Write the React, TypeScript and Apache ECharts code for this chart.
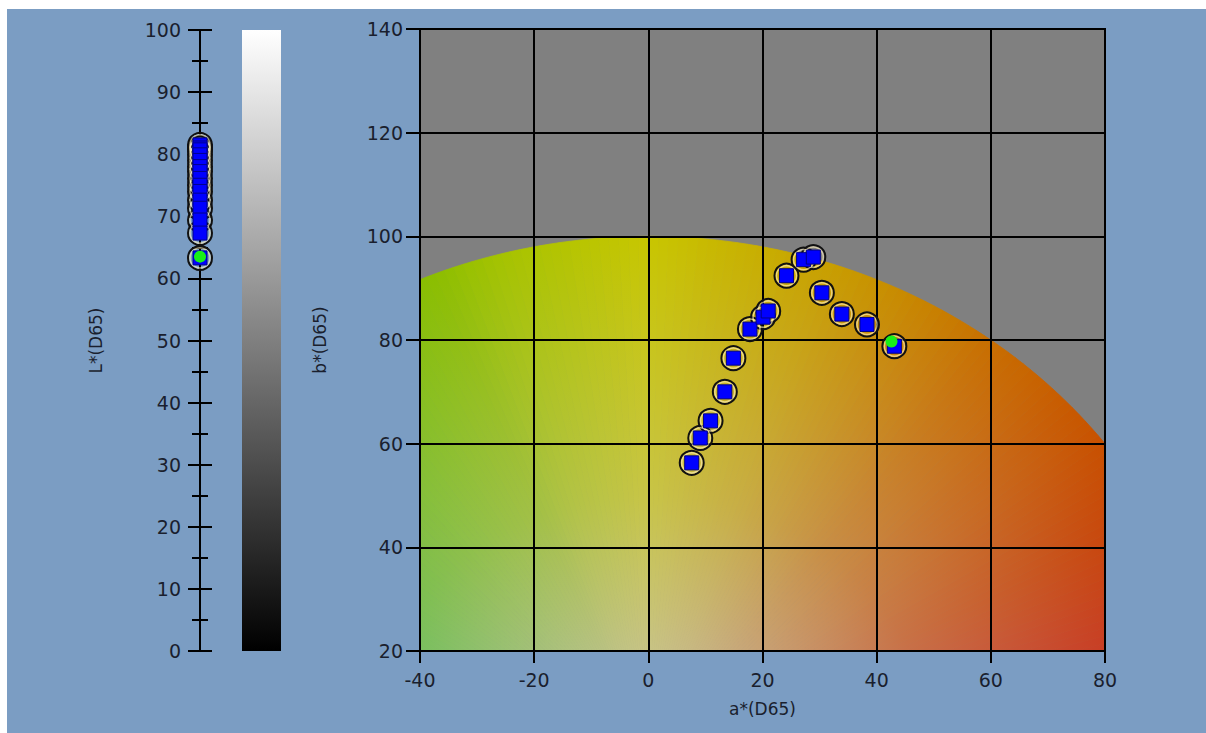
import React, { useEffect, useRef } from 'react';
import * as echarts from 'echarts';

// ---- data ----
const A_VALUES = [7.6, 9.1, 10.9, 13.4, 14.9, 17.8, 20.1, 21.0, 24.2, 27.2, 28.9, 30.4, 33.9, 38.3, 43.1];
const B_VALUES = [56.3, 61.1, 64.4, 70.0, 76.5, 82.1, 84.4, 85.6, 92.4, 95.5, 96.0, 89.1, 85.0, 83.0, 78.8];
const L_VALUES = [81.5, 81.0, 80.7, 79.9, 79.0, 78.0, 77.2, 76.1, 75.0, 74.0, 72.6, 71.3, 69.4, 67.3, 63.3];
const TARGET_A = 42.6;
const TARGET_B = 79.7;
const TARGET_L = 63.5;

const L_MIN = 0, L_MAX = 100, L_STEP = 10;
const A_MIN = -40, A_MAX = 80, A_STEP = 20;
const B_MIN = 20, B_MAX = 140, B_STEP = 20;

// ---- colour-space background (decoration) ----
const GAMUT_CHROMA = 100;
const HUE_STEP = 1;
const HUE_ANCHORS = [0, 14, 27, 37, 53, 72, 90, 105, 112, 153, 180];
const EDGE_COLORS = [
  [200, 30, 30], [200, 40, 15], [200, 60, 0], [200, 80, 0], [200, 110, 0],
  [200, 160, 0], [200, 198, 0], [165, 195, 0], [140, 190, 0], [55, 188, 25], [20, 180, 70],
];
const NEUTRAL = [200, 195, 175];
const MID_MIX = 0.6;
const OUT_OF_GAMUT = '#808080';

const PANEL = '#7b9dc3';
const TEXT = '#1a1f2e';
const FONT = 'DejaVu Sans';

function edgeRGB(h: number): number[] {
  let i = 0;
  while (i < HUE_ANCHORS.length - 2 && h > HUE_ANCHORS[i + 1]) i++;
  const t = Math.max(0, Math.min(1, (h - HUE_ANCHORS[i]) / (HUE_ANCHORS[i + 1] - HUE_ANCHORS[i])));
  const c0 = EDGE_COLORS[i], c1 = EDGE_COLORS[i + 1];
  return c0.map((v, k) => v + (c1[k] - v) * t);
}
function rgb(c: number[]): string {
  return `rgb(${Math.round(c[0])},${Math.round(c[1])},${Math.round(c[2])})`;
}
function mix(a: number[], b: number[], t: number): number[] {
  return a.map((v, k) => v + (b[k] - v) * t);
}

const ringOuter = {
  symbol: 'circle', symbolSize: 24,
  itemStyle: { color: 'rgba(0,0,0,0)', borderColor: '#111111', borderWidth: 2, opacity: 1 },
};
const ringInner = {
  symbol: 'circle', symbolSize: 20,
  itemStyle: { color: 'rgba(0,0,0,0)', borderColor: 'rgba(255,240,190,0.65)', borderWidth: 1.5, opacity: 1 },
};
const square = {
  symbol: 'rect', symbolSize: 14,
  itemStyle: { color: '#0000ff', borderColor: '#00008a', borderWidth: 1, opacity: 1 },
};
const greenDot = {
  symbol: 'circle', symbolSize: 12,
  itemStyle: { color: '#18f018', opacity: 1 },
};

export default function App() {
  const ref = useRef<HTMLDivElement>(null);
  useEffect(() => {
    if (!ref.current) return;
    const chart = echarts.init(ref.current, undefined, { renderer: 'svg' });

    const abData = A_VALUES.map((a, i) => [a, B_VALUES[i]]);
    const lData = L_VALUES.map((l) => [0, l]);

    const axisLabel = { color: TEXT, fontFamily: FONT, fontSize: 19 };
    const nameStyle = { color: TEXT, fontFamily: FONT, fontSize: 17 };
    const blackLine = { color: '#000000', width: 2 };

    const option: any = {
      animation: false,
      backgroundColor: PANEL,
      grid: [
        { left: 193, width: 20, top: 21, bottom: 82, containLabel: false },
        {
          left: 413, right: 101, top: 20, bottom: 82, containLabel: false,
          show: true, backgroundColor: 'transparent', borderColor: '#000000', borderWidth: 2, z: 1,
        },
      ],
      xAxis: [
        { gridIndex: 0, type: 'value', min: 0, max: 1, show: false },
        {
          gridIndex: 1, type: 'value', min: A_MIN, max: A_MAX, interval: A_STEP,
          name: 'a*(D65)', nameLocation: 'middle', nameGap: 49, nameTextStyle: nameStyle,
          axisLine: { show: true, onZero: false, lineStyle: blackLine },
          axisTick: { show: true, length: 12, lineStyle: blackLine },
          axisLabel: { ...axisLabel, margin: 19 },
          splitLine: { show: true, lineStyle: blackLine },
        },
      ],
      yAxis: [
        {
          gridIndex: 0, type: 'value', min: L_MIN, max: L_MAX, interval: L_STEP, position: 'left',
          name: 'L*(D65)', nameLocation: 'middle', nameGap: 96, nameTextStyle: nameStyle,
          axisLine: { show: true, onZero: false, lineStyle: blackLine },
          axisTick: { show: true, length: 12, lineStyle: blackLine },
          minorTick: { show: true, splitNumber: 2, length: 8, lineStyle: { color: '#000', width: 2 } },
          axisLabel: { ...axisLabel, margin: 19 },
          splitLine: { show: false },
        },
        {
          gridIndex: 0, type: 'value', min: L_MIN, max: L_MAX, interval: L_STEP, position: 'left',
          axisLine: { show: false, onZero: false },
          axisTick: { show: true, inside: true, length: 12, lineStyle: blackLine },
          minorTick: { show: true, splitNumber: 2, length: 8, lineStyle: { color: '#000', width: 2 } },
          axisLabel: { show: false },
          splitLine: { show: false },
        },
        {
          gridIndex: 1, type: 'value', min: B_MIN, max: B_MAX, interval: B_STEP,
          name: 'b*(D65)', nameLocation: 'middle', nameGap: 92, nameTextStyle: nameStyle,
          axisLine: { show: true, onZero: false, lineStyle: blackLine },
          axisTick: { show: true, length: 14, lineStyle: blackLine },
          axisLabel: { ...axisLabel, margin: 17 },
          splitLine: { show: true, lineStyle: blackLine },
        },
      ],
      graphic: [
        {
          type: 'rect', left: 235, top: 21, z: 5,
          shape: { width: 39, height: 621 },
          style: {
            fill: new echarts.graphic.LinearGradient(0, 0, 0, 1, [
              { offset: 0, color: '#ffffff' },
              { offset: 1, color: '#000000' },
            ]),
          },
        },
      ],
      series: [
        {
          type: 'custom', xAxisIndex: 1, yAxisIndex: 2, z: -1, clip: true, silent: true,
          data: [[0, 0]],
          renderItem: (_p: any, api: any) => {
            const children: any[] = [];
            const tl = api.coord([A_MIN, B_MAX]);
            const br = api.coord([A_MAX, B_MIN]);
            children.push({
              type: 'rect',
              shape: { x: tl[0], y: tl[1], width: br[0] - tl[0], height: br[1] - tl[1] },
              style: { fill: OUT_OF_GAMUT },
            });
            const o = api.coord([0, 0]);
            for (let h = 0; h < 180; h += HUE_STEP) {
              const r1 = (h * Math.PI) / 180;
              const r2 = ((h + HUE_STEP) * Math.PI) / 180;
              const rm = ((h + HUE_STEP / 2) * Math.PI) / 180;
              const p1 = api.coord([GAMUT_CHROMA * Math.cos(r1), GAMUT_CHROMA * Math.sin(r1)]);
              const p2 = api.coord([GAMUT_CHROMA * Math.cos(r2), GAMUT_CHROMA * Math.sin(r2)]);
              const pm = api.coord([GAMUT_CHROMA * Math.cos(rm), GAMUT_CHROMA * Math.sin(rm)]);
              const edge = edgeRGB(h + HUE_STEP / 2);
              const grad = new echarts.graphic.LinearGradient(o[0], o[1], pm[0], pm[1], [
                { offset: 0, color: rgb(NEUTRAL) },
                { offset: 0.5, color: rgb(mix(NEUTRAL, edge, MID_MIX)) },
                { offset: 1, color: rgb(edge) },
              ], true);
              children.push({
                type: 'polygon',
                shape: { points: [o, p1, p2] },
                style: { fill: grad, stroke: grad, lineWidth: 0.8 },
              });
            }
            return { type: 'group', children };
          },
        },
        // main a*b* plot
        { type: 'scatter', xAxisIndex: 1, yAxisIndex: 2, z: 3, clip: false, data: abData, ...ringOuter },
        { type: 'scatter', xAxisIndex: 1, yAxisIndex: 2, z: 3, clip: false, data: abData, ...ringInner },
        { type: 'scatter', xAxisIndex: 1, yAxisIndex: 2, z: 4, clip: false, data: abData, ...square },
        { type: 'scatter', xAxisIndex: 1, yAxisIndex: 2, z: 5, clip: false, data: [[TARGET_A, TARGET_B]], ...greenDot },
        // L* strip
        { type: 'scatter', xAxisIndex: 0, yAxisIndex: 0, z: 3, clip: false, data: lData, ...ringOuter },
        { type: 'scatter', xAxisIndex: 0, yAxisIndex: 0, z: 3, clip: false, data: lData, ...ringInner },
        { type: 'scatter', xAxisIndex: 0, yAxisIndex: 0, z: 4, clip: false, data: lData, ...square },
        { type: 'scatter', xAxisIndex: 0, yAxisIndex: 0, z: 5, clip: false, data: [[0, TARGET_L]], ...greenDot },
      ],
    };
    chart.setOption(option);
    return () => chart.dispose();
  }, []);

  return (
    <div style={{ position: 'fixed', left: 0, top: 0, width: 1206, height: 733, background: '#ffffff' }}>
      <div ref={ref} style={{ position: 'absolute', left: 7, top: 9, width: 1199, height: 724 }} />
    </div>
  );
}
